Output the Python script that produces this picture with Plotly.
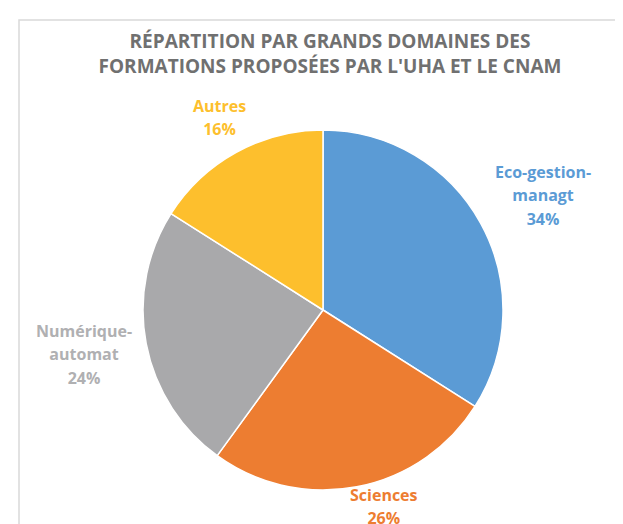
import math
import plotly.graph_objects as go

categories = ["Eco-gestion-<br>managt", "Sciences", "Numérique-<br>automat", "Autres"]
values = [34, 26, 24, 16]
colors = ["#5B9BD5", "#ED7D31", "#A9A9AB", "#FDBF2D"]
text_colors = ["#5B9BD5", "#ED7D31", "#B0B0B2", "#FDBF2D"]
title_lines = ["RÉPARTITION PAR GRANDS DOMAINES DES", "FORMATIONS PROPOSÉES PAR L'UHA ET LE CNAM"]

# style: distance (px) of each label centre from the pie centre, plus nudges
label_dist = [247, 196, 250, 229]
label_dx = [-3, 17, 0, 0]
label_dy = [0, 0, -6, 4]

W, H = 623, 524
cx, cy, r = 315, 302, 180
pie_cx, pie_cy = 322, 306  # rendered centre of the pie (pixels)

fig = go.Figure(go.Pie(
    labels=categories,
    values=values,
    sort=False,
    direction="clockwise",
    rotation=0,
    marker=dict(colors=colors, line=dict(color="white", width=1.5)),
    textinfo="none",
    showlegend=False,
    hoverinfo="label+percent",
    domain=dict(x=[(cx - r) / W, (cx + r) / W], y=[(H - cy - r) / H, (H - cy + r) / H]),
))

total = sum(values)
annotations = []
cum = 0
for lab, v, col, d, ddx, ddy in zip(categories, values, text_colors, label_dist, label_dx, label_dy):
    mid = (cum + v / 2) / total * 2 * math.pi
    cum += v
    px = pie_cx + d * math.sin(mid) + ddx
    py = pie_cy - d * math.cos(mid) + ddy
    pct = round(v / total * 100)
    lines = (lab + f"<br>{pct}%").split("<br>")
    text = "<br>".join(f"<span style='font-size:16px'>{ln}</span>" for ln in lines)
    annotations.append(dict(
        x=px / W, y=1 - py / H, xref="paper", yref="paper",
        xanchor="center", yanchor="middle", showarrow=False,
        text=text,
        font=dict(family="Open Sans", size=18, color=col, weight="bold"),
    ))

fig.update_layout(
    width=W, height=H,
    margin=dict(l=0, r=0, t=0, b=0),
    paper_bgcolor="white",
    title=dict(
        text="<br>".join(title_lines),
        x=322 / W, xanchor="center",
        y=1 - 40 / H, yanchor="top",
        font=dict(family="Open Sans", size=19, color="#707070", weight="bold"),
    ),
    annotations=annotations,
    shapes=[dict(type="rect", xref="paper", yref="paper",
                 x0=11 / W, x1=1.05, y0=-0.05, y1=1 - 12 / H,
                 line=dict(color="#D9D9D9", width=1.5), fillcolor="rgba(0,0,0,0)")],
)

fig.write_html("out.html")
